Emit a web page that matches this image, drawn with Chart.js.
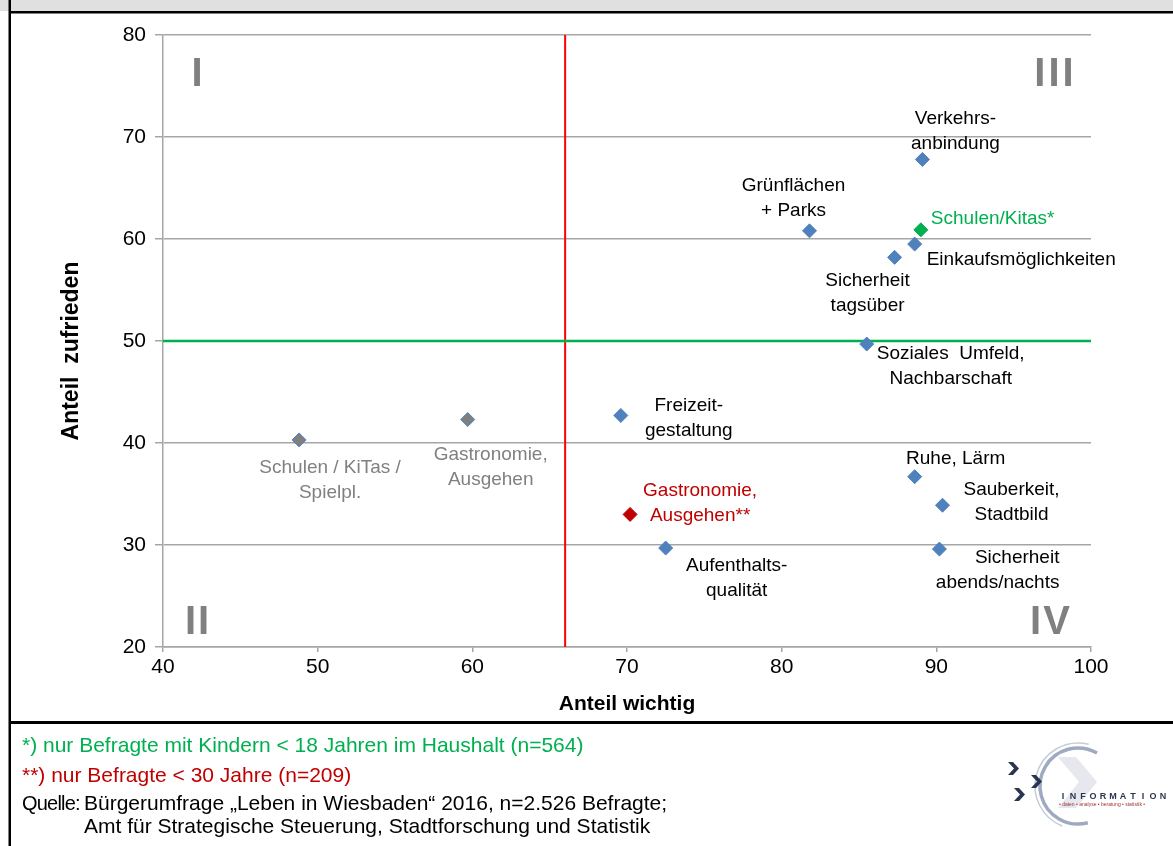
<!DOCTYPE html>
<html lang="de">
<head>
<meta charset="utf-8">
<title>Zufriedenheit und Wichtigkeit</title>
<script src="https://cdn.jsdelivr.net/npm/chart.js@4.4.1/dist/chart.umd.min.js"></script>
<style>
  html, body { margin: 0; padding: 0; background: #fff; }
  #page { position: relative; width: 1173px; height: 846px; overflow: hidden;
          font-family: 'Liberation Sans', Arial, sans-serif; }
  #chart { position: absolute; left: 0; top: 0; }
  .note { position: absolute; left: 22px; font-size: 21px; line-height: 21px; white-space: nowrap; }
  .quelle { display: inline-block; width: 62px; font-size: 20px; letter-spacing: -0.8px; }
</style>
</head>
<body>
<div id="page">
  <canvas id="chart" width="1173" height="846"></canvas>
  <div class="note" style="top:734px;color:#00b050">*) nur Befragte mit Kindern &lt; 18 Jahren im Haushalt (n=564)</div>
  <div class="note" style="top:764px;color:#c00000">**) nur Befragte &lt; 30 Jahre (n=209)</div>
  <div class="note" style="top:792px;color:#000"><span class="quelle">Quelle:</span>Bürgerumfrage „Leben in Wiesbaden“ 2016, n=2.526 Befragte;</div>
  <div class="note" style="top:815px;left:84px;color:#000">Amt für Strategische Steuerung, Stadtforschung und Statistik</div>
</div>
<script>
// Themen der Bürgerumfrage
const themen = [
  'Verkehrs-\nanbindung',
  'Schulen/Kitas*',
  'Grünflächen\n+ Parks',
  'Einkaufsmöglichkeiten',
  'Sicherheit\ntagsüber',
  'Soziales  Umfeld,\nNachbarschaft',
  'Freizeit-\ngestaltung',
  'Schulen / KiTas /\nSpielpl.',
  'Gastronomie,\nAusgehen',
  'Gastronomie,\nAusgehen**',
  'Aufenthalts-\nqualität',
  'Ruhe, Lärm',
  'Sauberkeit,\nStadtbild',
  'Sicherheit\nabends/nachts'
];
// Anteil "wichtig" in %
const anteilWichtig   = [89.1, 89.0, 81.8, 88.6, 87.3, 85.5, 69.6, 48.8, 59.7, 70.2, 72.5, 88.6, 90.4, 90.2];
// Anteil "zufrieden" in %
const anteilZufrieden = [67.8, 60.9, 60.8, 59.5, 58.2, 49.7, 42.7, 40.3, 42.3, 33.0, 29.7, 36.7, 33.9, 29.6];
// Befragtengruppe je Thema
const gruppe = ['alle', 'kinder', 'alle', 'alle', 'alle', 'alle', 'alle',
                'vergleich', 'vergleich', 'jung', 'alle', 'alle', 'alle', 'alle'];

// Achsenbeschriftungen
const xTicks = [40, 50, 60, 70, 80, 90, 100];
const yTicks = [20, 30, 40, 50, 60, 70, 80];

// Trennlinien der Quadranten
const grenzeWichtig = 66;
const grenzeZufrieden = 50;
const quadranten = ['I', 'II', 'III', 'IV'];

// Farben je Gruppe
const markerFarbe = { alle: '#4f81bd', kinder: '#00b050', jung: '#c00000', vergleich: '#7f7f7f' };
const markerRand  = { alle: '#4f81bd', kinder: '#00b050', jung: '#c00000', vergleich: '#4f81bd' };
const textFarbe   = { alle: '#000000', kinder: '#00b050', jung: '#c00000', vergleich: '#808080' };

// Lage der Beschriftung relativ zum Punkt (px)
const labelLage = [
  { dx: 33,  dy: -41, align: 'center' },
  { dx: 10,  dy: -11, align: 'left' },
  { dx: -16, dy: -45, align: 'center' },
  { dx: 12,  dy: 16,  align: 'left' },
  { dx: -27, dy: 23,  align: 'center' },
  { dx: 84,  dy: 10,  align: 'center' },
  { dx: 68,  dy: -10, align: 'center' },
  { dx: 31,  dy: 28,  align: 'center' },
  { dx: 23,  dy: 35,  align: 'center' },
  { dx: 70,  dy: -24, align: 'center' },
  { dx: 71,  dy: 18,  align: 'center' },
  { dx: 41,  dy: -18, align: 'center' },
  { dx: 69,  dy: -15, align: 'center' },
  { dx: 120, dy: 9,   align: 'right' }
];

const FONT = "'Liberation Sans', Arial, sans-serif";
const GRID = '#a6a6a6';

const punkte = anteilWichtig.map((x, i) => ({ x, y: anteilZufrieden[i] }));

function logo(c) {
  c.save();
  // blasser Pfeil im Ring
  c.fillStyle = '#e6e8ed';
  c.beginPath();
  c.moveTo(1058, 757); c.lineTo(1076, 757); c.lineTo(1097, 782);
  c.lineTo(1076, 808); c.lineTo(1058, 808); c.lineTo(1079, 782);
  c.closePath(); c.fill();
  // Ring
  c.strokeStyle = '#9faac0'; c.lineWidth = 3.5;
  c.beginPath(); c.arc(1078, 786, 38, -Math.PI / 3, Math.PI * 75 / 180, true); c.stroke();
  c.strokeStyle = '#c5ccd9'; c.lineWidth = 1.5;
  c.beginPath(); c.arc(1078, 786, 43, -Math.PI * 0.42, Math.PI * 0.62, true); c.stroke();
  // drei Winkel
  c.fillStyle = '#2a3552';
  [[1008, 762], [1031, 775], [1014, 788]].forEach(([x, y]) => {
    c.beginPath();
    c.moveTo(x, y); c.lineTo(x + 5, y); c.lineTo(x + 11, y + 6.5);
    c.lineTo(x + 5, y + 13); c.lineTo(x, y + 13); c.lineTo(x + 6, y + 6.5);
    c.closePath(); c.fill();
  });
  // Schriftzug
  c.font = 'bold 9px ' + FONT;
  c.textBaseline = 'middle'; c.textAlign = 'center';
  'INFORMATION'.split('').forEach((ch, k) => c.fillText(ch, 1063 + k * 10, 797));
  c.fillStyle = '#a03535';
  c.font = '5px ' + FONT;
  c.textAlign = 'left';
  c.fillText('• daten • analyse • beratung • statistik •', 1059, 805, 110);
  c.restore();
}

// Quadrantennummer mit etwas Sperrung, mittig um x
function sperrText(c, txt, x, y, abstand) {
  const breiten = txt.split('').map(ch => c.measureText(ch).width);
  const gesamt = breiten.reduce((s, b) => s + b, 0) + abstand * (txt.length - 1);
  let pos = x - gesamt / 2;
  c.textAlign = 'left';
  txt.split('').forEach((ch, k) => { c.fillText(ch, pos, y); pos += breiten[k] + abstand; });
}

const deko = {
  id: 'deko',
  beforeDraw(chart) {
    const c = chart.ctx;
    c.save();
    c.fillStyle = '#ffffff'; c.fillRect(0, 0, chart.width, chart.height);
    c.fillStyle = '#e0e0e0'; c.fillRect(0, 0, chart.width, 11);
    c.fillStyle = '#000000';
    c.fillRect(9, 11, chart.width - 9, 2.5);
    c.fillRect(8.5, 0, 2.5, chart.height);
    c.fillRect(9, 721, chart.width - 9, 3);
    c.restore();
  },
  beforeDatasetsDraw(chart) {
    const c = chart.ctx, a = chart.chartArea;
    const xs = chart.scales.x, ys = chart.scales.y;
    c.save();
    // Quadrantennummern
    c.fillStyle = '#808080';
    c.font = 'bold 40px ' + FONT;
    c.textBaseline = 'middle';
    sperrText(c, quadranten[0], a.left + 34, a.top + 40, 4);
    sperrText(c, quadranten[1], a.left + 34, a.bottom - 24, 2);
    sperrText(c, quadranten[2], a.right - 37, a.top + 40, 3);
    sperrText(c, quadranten[3], a.right - 41, a.bottom - 24, 2);
    // Trennlinien
    const gx = xs.getPixelForValue(grenzeWichtig);
    c.strokeStyle = '#ff0000'; c.lineWidth = 2;
    c.beginPath(); c.moveTo(gx, a.top); c.lineTo(gx, a.bottom); c.stroke();
    const gy = ys.getPixelForValue(grenzeZufrieden);
    c.strokeStyle = '#00b050'; c.lineWidth = 2.5;
    c.beginPath(); c.moveTo(a.left, gy); c.lineTo(a.right, gy); c.stroke();
    c.restore();
  },
  afterDatasetsDraw(chart) {
    const c = chart.ctx;
    const pts = chart.getDatasetMeta(0).data;
    c.save();
    c.font = '19px ' + FONT;
    c.textBaseline = 'middle';
    pts.forEach((p, i) => {
      const lage = labelLage[i];
      c.fillStyle = textFarbe[gruppe[i]];
      c.textAlign = lage.align;
      themen[i].split('\n').forEach((zeile, k) => {
        c.fillText(zeile, p.x + lage.dx, p.y + lage.dy + k * 25);
      });
    });
    c.restore();
  },
  afterDraw(chart) {
    const c = chart.ctx, a = chart.chartArea;
    c.save();
    c.fillStyle = '#000';
    c.font = 'bold 21px ' + FONT;
    c.textAlign = 'center'; c.textBaseline = 'middle';
    c.fillText('Anteil wichtig', (a.left + a.right) / 2, a.bottom + 57);
    c.font = 'bold 23px ' + FONT;
    c.translate(a.left - 91, (a.top + a.bottom) / 2 + 10);
    c.rotate(-Math.PI / 2);
    c.fillText('Anteil  zufrieden', 0, 0);
    c.restore();
    logo(c);
  }
};

new Chart(document.getElementById('chart'), {
  type: 'scatter',
  data: {
    datasets: [{
      data: punkte,
      pointStyle: 'rectRot',
      pointRadius: 7,
      pointHoverRadius: 7,
      pointBorderWidth: 1,
      pointBackgroundColor: gruppe.map(g => markerFarbe[g]),
      pointBorderColor: gruppe.map(g => markerRand[g])
    }]
  },
  options: {
    responsive: false,
    animation: false,
    events: [],
    layout: { padding: { left: 0, right: 82, top: 35, bottom: 124 } },
    plugins: { legend: { display: false }, tooltip: { enabled: false } },
    scales: {
      x: {
        type: 'linear',
        min: xTicks[0], max: xTicks[xTicks.length - 1],
        afterBuildTicks: s => { s.ticks = xTicks.map(v => ({ value: v })); },
        afterFit: s => { s.height = 75; },
        grid: { drawOnChartArea: false, drawTicks: true, tickLength: 5, color: GRID, lineWidth: 1.5 },
        border: { color: GRID, width: 1.5 },
        ticks: { color: '#000', padding: 3, font: { family: FONT, size: 21 } }
      },
      y: {
        type: 'linear',
        min: yTicks[0], max: yTicks[yTicks.length - 1],
        afterBuildTicks: s => { s.ticks = yTicks.map(v => ({ value: v })); },
        afterFit: s => { s.width = 163; },
        grid: { drawTicks: true, tickLength: 8, color: GRID, lineWidth: 1.5 },
        border: { color: GRID, width: 1.5 },
        ticks: { color: '#000', padding: 9, font: { family: FONT, size: 21 } }
      }
    }
  },
  plugins: [deko]
});
</script>
</body>
</html>
